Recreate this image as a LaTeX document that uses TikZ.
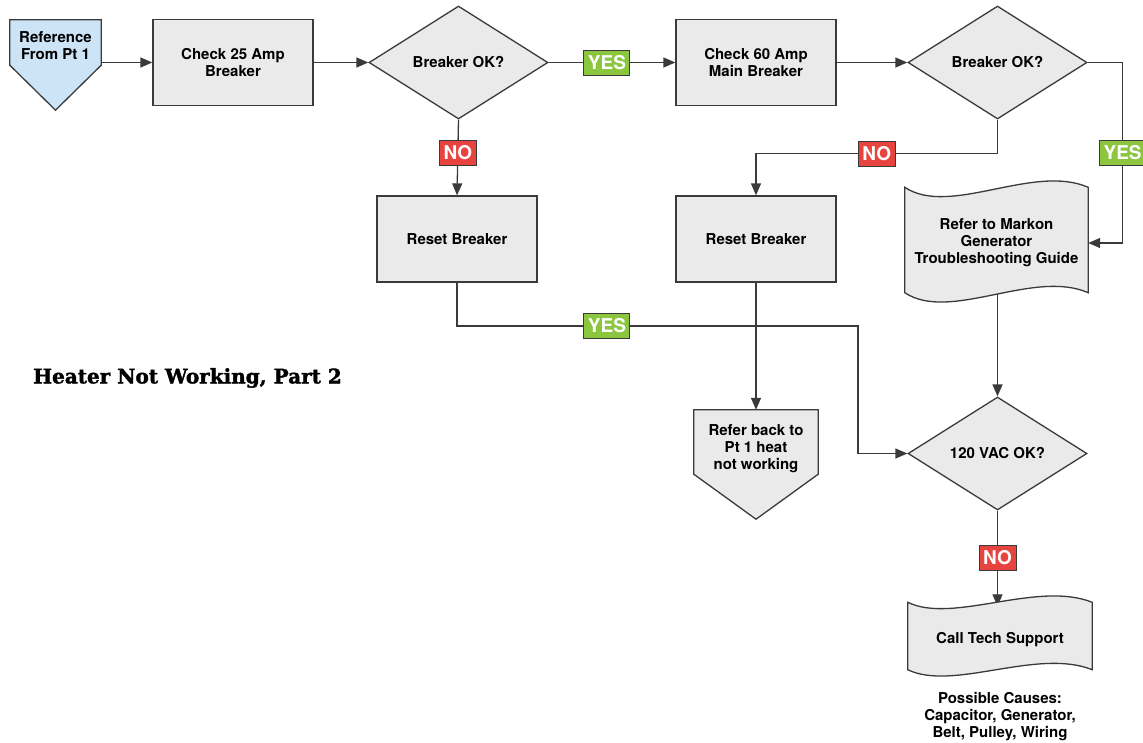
\documentclass[tikz,border=0pt]{standalone}
\usepackage{fontspec}
\setmainfont{TeX Gyre Heros}
\newfontfamily\titlefont[BoldFeatures={FakeBold=1.8}]{DejaVu Serif}
\usetikzlibrary{shapes.geometric,arrows.meta}
\definecolor{shapefill}{RGB}{233,234,233}
\definecolor{linecol}{RGB}{58,58,58}
\definecolor{refblue}{RGB}{205,228,247}
\definecolor{yesgreen}{RGB}{140,198,63}
\definecolor{nored}{RGB}{232,68,63}
\pgfdeclarelayer{lines}
\pgfdeclarelayer{shapes}
\pgfsetlayers{lines,shapes,main}
\tikzset{
  mainfont/.style={font=\bfseries\fontsize{15}{17}\selectfont},
  base/.style={mainfont, draw=linecol, line width=1.3pt, fill=shapefill, align=center, text=black},
  procbox/.style={base, rectangle, minimum width=160pt, minimum height=86pt, inner sep=0pt},
  decision/.style={base, diamond, aspect=1.58, minimum width=179pt, minimum height=113pt, inner sep=0pt},
  shapetext/.style={mainfont, align=center, text=black, inner sep=0pt},
  outline/.style={draw=linecol, line width=1.3pt, fill=shapefill, line join=miter},
  lbl/.style={draw=linecol, line width=1pt, text=white, font=\bfseries\fontsize{19}{19}\selectfont, minimum height=25pt, inner sep=0pt},
  yes/.style={lbl, fill=yesgreen, minimum width=46pt},
  no/.style={lbl, fill=nored, minimum width=37pt},
  conn/.style={draw=linecol, line width=1.3pt, -{Triangle[length=12pt,width=10pt]}},
}
\begin{document}
\begin{tikzpicture}[x=1pt,y=-1pt]
\useasboundingbox (0,0) rectangle (1143,742);

% nodes
\node[shapetext, minimum width=91pt, minimum height=52pt] (ref) at (55.5,46) {Reference\\From Pt 1};
\node[procbox] (c25) at (233,62.5) {Check 25 Amp\\Breaker};
\node[decision] (d1) at (458.5,62.5) {Breaker OK?};
\node[procbox] (c60) at (756,62.5) {Check 60 Amp\\Main Breaker};
\node[decision] (d2) at (997.5,62.5) {Breaker OK?};
\node[procbox] (r1) at (457,239) {Reset Breaker};
\node[procbox] (r2) at (756,239) {Reset Breaker};
\node[shapetext, minimum width=183pt, minimum height=111pt] (doc1) at (996.5,243) {Refer to Markon\\Generator\\Troubleshooting Guide};
\node[shapetext, minimum width=124pt, minimum height=78pt] (p2) at (756,449) {Refer back to\\Pt 1 heat\\not working};
\node[decision] (d3) at (997.5,453.5) {120 VAC OK?};
\node[shapetext, minimum width=184pt, minimum height=75pt] (cts) at (1000,640) {Call Tech Support};
\node[shapetext] (causes) at (1000,717) {Possible Causes:\\Capacitor, Generator,\\Belt, Pulley, Wiring};
\node[anchor=west, inner sep=0pt, font=\titlefont\bfseries\fontsize{20}{22}\selectfont] (title) at (33,378) {Heater Not Working, Part 2};

% custom shapes
\begin{pgfonlayer}{shapes}
  \draw[outline, fill=refblue] (ref.north west) -- (ref.north east) -- ([yshift=7pt]ref.south east)
     -- ([yshift=-38pt]ref.south) -- ([yshift=7pt]ref.south west) -- cycle;
  \draw[outline] (p2.north west) -- (p2.north east) -- ([yshift=14pt]p2.south east)
     -- ([yshift=-31pt]p2.south) -- ([yshift=14pt]p2.south west) -- cycle;
  \draw[outline] (doc1.north west) .. controls +(45,30) and +(-55,-24) .. (doc1.north east)
     -- ([yshift=6pt]doc1.south east) .. controls +(-55,-24) and +(45,30) .. ([yshift=6pt]doc1.south west) -- cycle;
  \draw[outline] (cts.north west) .. controls +(45,22) and +(-55,-22) .. (cts.north east)
     -- ([yshift=8pt]cts.south east) .. controls +(-55,-22) and +(45,22) .. ([yshift=8pt]cts.south west) -- cycle;
\end{pgfonlayer}

% connectors
\coordinate (j1) at (858,326);
\begin{pgfonlayer}{lines}
  \draw[conn] (c25.west -| ref.east) -- (c25.west);
  \draw[conn] (c25.east) -- (d1.west);
  \draw[conn] (d1.east) -- node[yes, pos=0.46]{YES} (c60.west);
  \draw[conn] (c60.east) -- (d2.west);
  \draw[conn] (d2.east) -- ++(35,0) |- node[yes, pos=0.25]{YES} (doc1.east);
  \draw[conn] (d1.south) -- node[no, pos=0.44]{NO} (r1.north);
  \draw[conn] (d2.south) -- ++(0,34) -| node[no, pos=0.25]{NO} (r2.north);
  \draw[conn] (r1.south) |- node[yes, pos=0.687]{YES} (j1) |- (d3.west);
  \draw[conn] (r2.south) -- (p2.north);
  \draw[conn] ([yshift=6pt]doc1.south -| d3.north) -- (d3.north);
  \draw[conn] (d3.south) -- node[no, pos=0.49]{NO} ([yshift=-4pt]cts.north -| d3.south);
\end{pgfonlayer}
\end{tikzpicture}
\end{document}
